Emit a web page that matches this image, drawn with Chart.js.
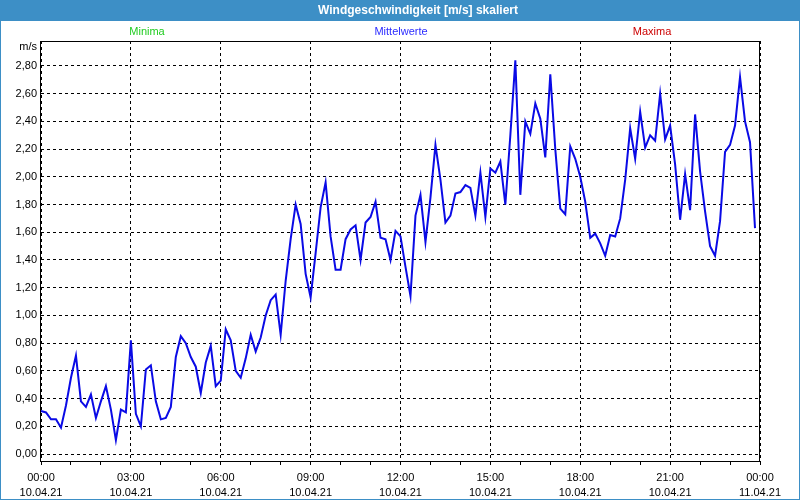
<!DOCTYPE html>
<html>
<head>
<meta charset="utf-8">
<script src="https://cdn.jsdelivr.net/npm/chart.js@4.4.0/dist/chart.umd.min.js"></script>
<style>
body{margin:0;background:#fff;}
#wrap{width:800px;height:500px;position:relative;}
</style>
</head>
<body>
<div id="wrap"><canvas id="mycanvas" width="800" height="500"></canvas></div>
<script>
var titel = 'Windgeschwindigkeit [m/s] skaliert';
var einheit = 'm/s';
var serienNamen = ['Minima', 'Mittelwerte', 'Maxima'];
var serienFarben = ['#22cc22', '#2b2bff', '#cc0000'];

// 10-Minuten-Mittelwerte 10.04.21 00:00 .. 23:50
var mittelwerte = [
	0.31,0.30,0.25,0.25,0.19,0.35,0.55,0.71,0.38,0.34,
	0.43,0.26,0.38,0.49,0.32,0.10,0.32,0.30,0.82,0.29,
	0.20,0.61,0.64,0.38,0.25,0.26,0.34,0.70,0.85,0.80,
	0.70,0.63,0.44,0.66,0.78,0.49,0.53,0.90,0.82,0.60,
	0.55,0.69,0.86,0.74,0.84,1.00,1.11,1.15,0.86,1.25,
	1.55,1.80,1.66,1.30,1.13,1.45,1.78,1.96,1.57,1.33,
	1.33,1.55,1.62,1.65,1.40,1.67,1.71,1.82,1.56,1.55,
	1.40,1.61,1.57,1.35,1.14,1.72,1.87,1.53,1.85,2.23,
	1.98,1.67,1.72,1.88,1.89,1.94,1.92,1.72,2.03,1.71,
	2.06,2.03,2.11,1.80,2.30,2.84,1.87,2.40,2.31,2.53,
	2.42,2.14,2.74,2.20,1.77,1.73,2.22,2.13,2.00,1.82,
	1.56,1.59,1.52,1.43,1.58,1.57,1.70,1.98,2.35,2.13,
	2.47,2.21,2.30,2.26,2.60,2.27,2.37,2.09,1.69,2.02,
	1.76,2.45,2.04,1.75,1.50,1.43,1.68,2.18,2.23,2.37,
	2.72,2.40,2.25,1.63
];

var yTicks = [0, 0.2, 0.4, 0.6, 0.8, 1.0, 1.2, 1.4, 1.6, 1.8, 2.0, 2.2, 2.4, 2.6, 2.8];
var xTickZeiten = ['00:00','03:00','06:00','09:00','12:00','15:00','18:00','21:00','00:00'];
var xTickDaten = ['10.04.21','10.04.21','10.04.21','10.04.21','10.04.21','10.04.21','10.04.21','10.04.21','11.04.21'];

var schritteProStunde = 6;
var schritteProTick = 18;

// ein Slot je 10 Minuten, plus Endpunkt 00:00
var slots = [];
for(var i = 0; i <= mittelwerte.length; i++){
	slots.push(i);
}

var schrift = "'Liberation Sans', Arial, sans-serif";

var rahmenPlugin = {
	id: 'rahmen',
	beforeDraw: function(chart){
		var ctx = chart.ctx;
		ctx.save();
		ctx.fillStyle = '#ffffff';
		ctx.fillRect(0, 0, chart.width, chart.height);
		ctx.restore();
	},
	afterDraw: function(chart){
		var ctx = chart.ctx;
		var a = chart.chartArea;
		ctx.save();
		// Titelleiste
		ctx.fillStyle = '#3d8fc6';
		ctx.fillRect(0, 0, chart.width, 21);
		ctx.strokeStyle = '#3d8fc6';
		ctx.lineWidth = 1;
		ctx.strokeRect(0.5, 0.5, chart.width - 1, chart.height - 1);
		ctx.fillStyle = '#ffffff';
		ctx.font = 'bold 12px ' + schrift;
		ctx.textAlign = 'center';
		ctx.textBaseline = 'middle';
		ctx.fillText(titel, 418, 11);

		// Serien-Beschriftungen
		ctx.font = '11px ' + schrift;
		var pos = [147, 401, 652];
		for(var i in serienNamen){
			ctx.fillStyle = serienFarben[i];
			ctx.fillText(serienNamen[i], pos[i], 32);
		}

		// Einheit
		ctx.fillStyle = '#000';
		ctx.textAlign = 'right';
		ctx.fillText(einheit, 37, 47);

		// Rahmen Diagramm
		ctx.strokeStyle = '#000';
		ctx.lineWidth = 1;
		var l = Math.round(a.left) - 0.5, t = Math.round(a.top) + 0.5;
		var r = Math.round(a.right) - 0.5, b = Math.round(a.bottom) + 0.5;
		ctx.strokeRect(l, t, r - l, b - t);
		ctx.restore();
	}
};

var ctx = document.getElementById('mycanvas');

var lineGraph = new Chart(ctx, {
	type: 'line',
	data: {
		labels: slots,
		datasets: [
			{
				label: serienNamen[1],
				data: mittelwerte,
				borderColor: '#0a0ae6',
				borderWidth: 2,
				pointRadius: 0,
				tension: 0,
				fill: false
			}
		]
	},
	options: {
		responsive: false,
		animation: false,
		devicePixelRatio: 1,
		layout: { padding: { top: 41, left: 0, right: 40, bottom: 0 } },
		plugins: {
			legend: { display: false },
			title: { display: false },
			tooltip: { enabled: false }
		},
		scales: {
			x: {
				type: 'category',
				offset: false,
				border: { display: false, dash: [3, 3] },
				grid: {
					offset: false,
					drawTicks: true,
					tickLength: 4,
					color: function(c){ return c.index % schritteProTick === 0 ? '#000' : 'rgba(0,0,0,0)'; },
					tickColor: function(c){ return c.index % schritteProStunde === 0 ? '#000' : 'rgba(0,0,0,0)'; }
				},
				ticks: {
					autoSkip: false,
					maxRotation: 0,
					padding: 5,
					color: '#000',
					font: { family: schrift, size: 11, lineHeight: 1.4 },
					callback: function(v, index){
						if(index % schritteProTick !== 0) return '';
						var k = index / schritteProTick;
						return [xTickZeiten[k], xTickDaten[k]];
					}
				},
				afterFit: function(scale){ scale.height = 39; }
			},
			y: {
				min: -0.0505,
				max: 2.98,
				border: { display: false, dash: [3, 3] },
				grid: {
					drawTicks: false,
					color: '#000'
				},
				ticks: {
					autoSkip: false,
					padding: 4,
					color: '#000',
					font: { family: schrift, size: 11 },
					callback: function(v){ return v.toFixed(2).replace('.', ','); }
				},
				afterBuildTicks: function(scale){
					scale.ticks = yTicks.map(function(v){ return { value: v }; });
				},
				afterFit: function(scale){ scale.width = 41; }
			}
		}
	},
	plugins: [rahmenPlugin]
});
</script>
</body>
</html>
